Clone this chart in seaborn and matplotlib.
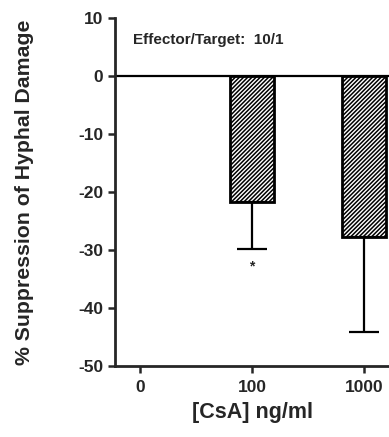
import matplotlib
matplotlib.use('Agg')
import matplotlib.pyplot as plt
import seaborn as sns
import pandas as pd
import numpy as np

# data
doses = ['0', '100', '1000']
suppression = [np.nan, -21.7, -27.8]
err_low = [0.0, 8.1, 16.3]

sns.set_style('ticks')
plt.rcParams['font.family'] = ['Liberation Sans', 'DejaVu Sans']
plt.rcParams['font.weight'] = 'bold'
plt.rcParams['axes.unicode_minus'] = False
plt.rcParams['hatch.linewidth'] = 1.1

df = pd.DataFrame({'dose': doses, 'value': suppression})

fig = plt.figure(figsize=(3.89, 4.37), dpi=100)
ax = fig.add_axes([0.296, 0.1625, 0.704, 0.7965])

sns.barplot(data=df, x='dose', y='value', order=doses, color='white',
            edgecolor='black', linewidth=2, width=0.39, errorbar=None,
            hatch='////////', ax=ax)

ax.errorbar([1, 2], suppression[1:], yerr=[err_low[1:], [0, 0]],
            fmt='none', ecolor='black', elinewidth=1.6, capsize=11, capthick=1.6)
ax.axhline(0, color='black', lw=1.6, zorder=0.5)

ax.text(1, -32.8, '*', ha='center', va='center', fontsize=10)
ax.text(0.61, 6.2, 'Effector/Target:  10/1', ha='center', va='center',
        fontsize=11, fontweight='bold')

ax.set_ylim(-50, 10)
ax.set_xlim(-0.22, 2.22)
ax.set_yticks(range(-50, 11, 10))
ax.set_xlabel('[CsA] ng/ml', fontsize=15.5, fontweight='bold', labelpad=5)
ax.set_ylabel('% Suppression of Hyphal Damage', fontsize=15.3, fontweight='bold', labelpad=32)
ax.tick_params(axis='both', labelsize=12.5, width=1.8, length=5, direction='out')
ax.tick_params(axis='x', pad=5)
for lab in ax.get_xticklabels() + ax.get_yticklabels():
    lab.set_fontweight('bold')

sns.despine(ax=ax)
ax.spines['left'].set_linewidth(2)
ax.spines['bottom'].set_linewidth(2)

fig.savefig('out.png', dpi=100)
